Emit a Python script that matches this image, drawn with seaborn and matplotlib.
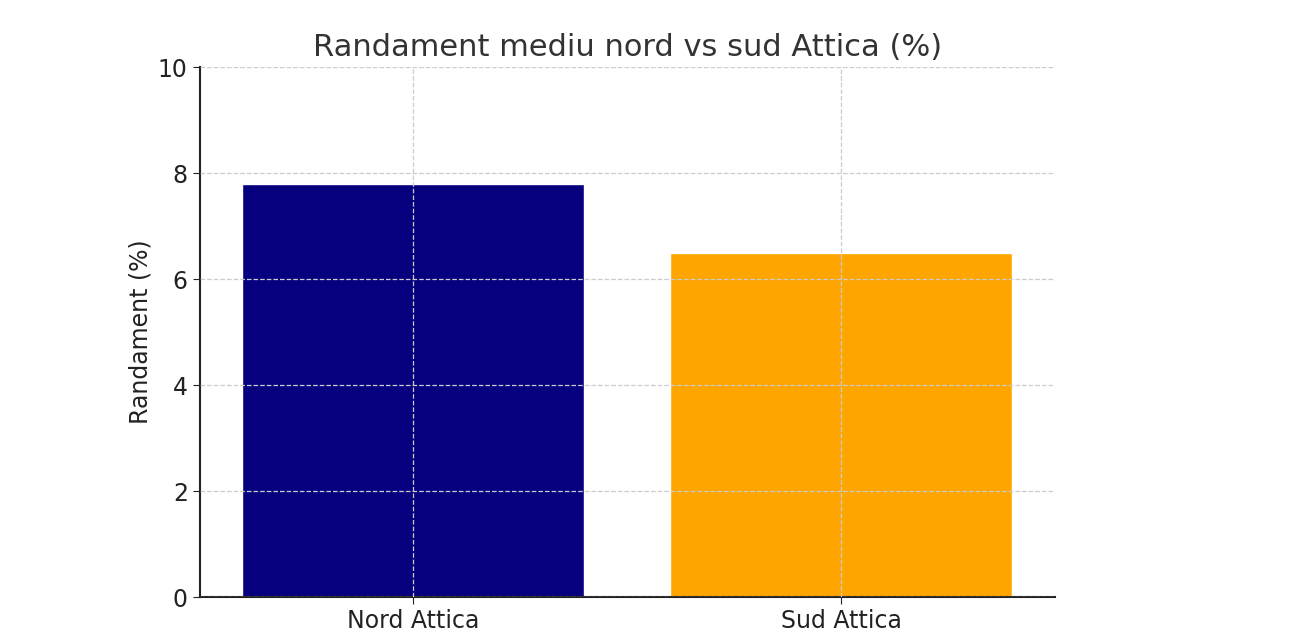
import matplotlib
matplotlib.use("Agg")
import matplotlib.pyplot as plt
import seaborn as sns
import pandas as pd

regions = ["Nord Attica", "Sud Attica"]
yields = [7.8, 6.5]
colors = ["#06007f", "#ffa500"]

sns.set_style("white")
plt.rcParams['font.family'] = ['DejaVu Sans']

df = pd.DataFrame({"region": regions, "yield": yields})
fig = plt.figure(figsize=(12.96, 6.4), dpi=100)
ax = fig.add_axes([0.154, 0.067, 0.66, 0.828])
sns.barplot(data=df, x="region", y="yield", hue="region", palette=colors,
            width=0.8, saturation=1, legend=False, ax=ax, zorder=1)
ax.set_ylim(0, 10)
ax.set_xlim(-0.5, 1.5)
ax.grid(True, linestyle="--", color="#cccccc", linewidth=0.9, zorder=2)
ax.set_axisbelow(False)
for s in ["top", "right"]:
    ax.spines[s].set_visible(False)
for s in ["left", "bottom"]:
    ax.spines[s].set_color("#222222")
    ax.spines[s].set_linewidth(1.5)
ax.tick_params(axis="both", labelsize=17, colors="#222222", length=5, left=True, bottom=True)
ax.set_xlabel("")
ax.set_ylabel("Randament (%)", fontsize=17, color="#222222")
ax.set_title("Randament mediu nord vs sud Attica (%)", fontsize=22, color="#333333", pad=8)
fig.savefig("out.png", dpi=100)
